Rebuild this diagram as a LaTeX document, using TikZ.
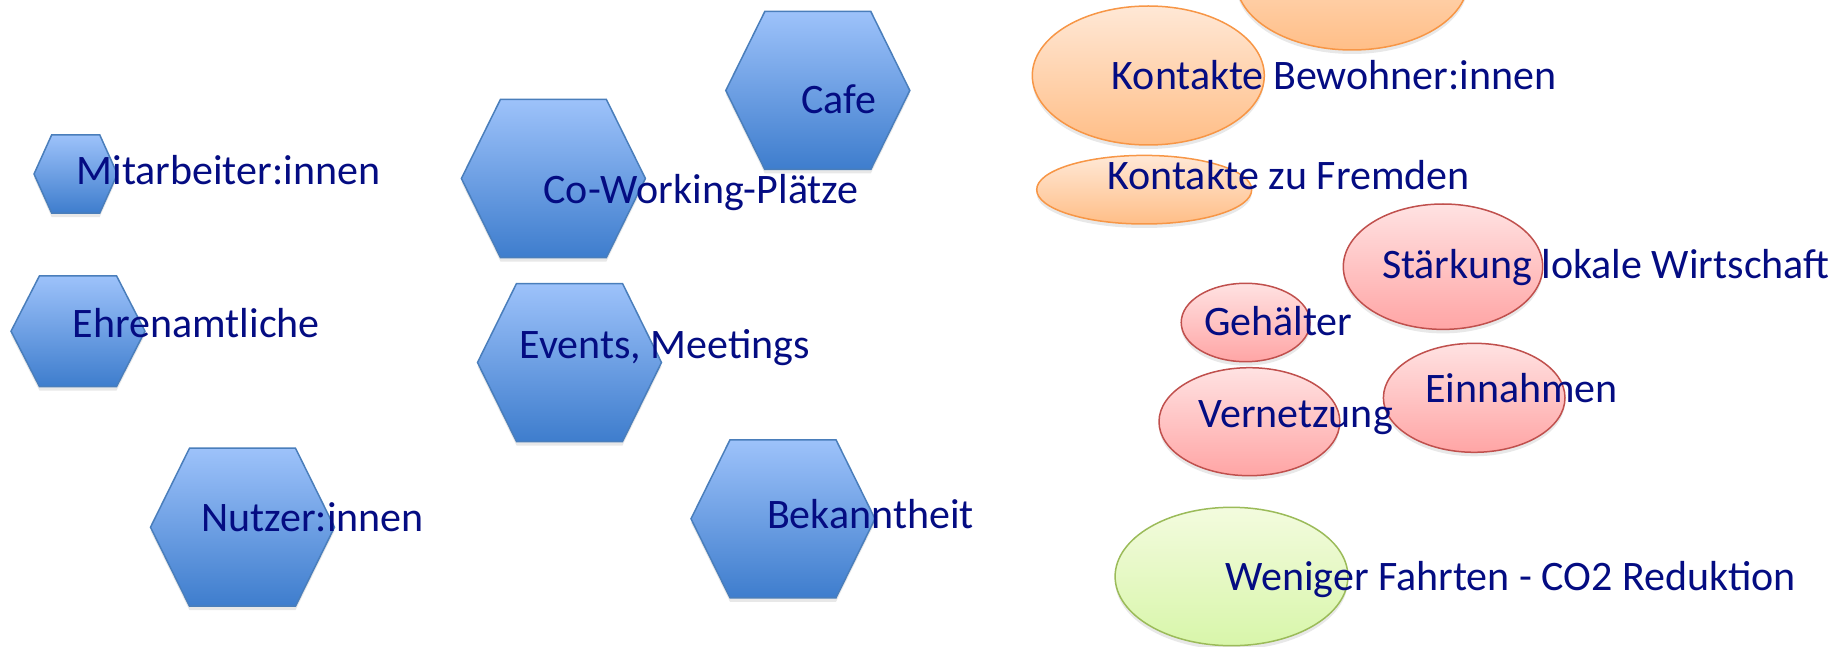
\documentclass[tikz,border=0pt]{standalone}
\usepackage{fontspec}
\setmainfont{Carlito}
\usetikzlibrary{shapes.geometric,shadows}
\definecolor{hexTop}{RGB}{157,194,250}
\definecolor{hexBot}{RGB}{62,125,205}
\definecolor{hexLine}{RGB}{74,126,187}
\definecolor{oraTop}{RGB}{255,232,214}
\definecolor{oraBot}{RGB}{255,190,135}
\definecolor{oraLine}{RGB}{247,150,70}
\definecolor{redTop}{RGB}{255,226,226}
\definecolor{redBot}{RGB}{255,165,165}
\definecolor{redLine}{RGB}{192,80,77}
\definecolor{grnTop}{RGB}{243,251,222}
\definecolor{grnBot}{RGB}{216,246,170}
\definecolor{grnLine}{RGB}{155,187,89}
\definecolor{txtBlue}{RGB}{4,12,130}
\tikzset{
  shade/.style={drop shadow={shadow xshift=0pt,shadow yshift=-4pt,opacity=.18}},
  hexa/.style={shade,top color=hexTop,bottom color=hexBot,draw=hexLine,line width=1.5pt},
  hexagon/.pic={\path[hexa] (-92,0) -- (-53,-79) -- (53,-79) -- (92,0) -- (53,79) -- (-53,79) -- cycle;},
  ball/.style={ellipse,shade,inner sep=0pt,line width=1.5pt},
  orange/.style={ball,top color=oraTop,bottom color=oraBot,draw=oraLine},
  red/.style={ball,top color=redTop,bottom color=redBot,draw=redLine},
  green/.style={ball,top color=grnTop,bottom color=grnBot,draw=grnLine},
  word/.style={anchor=base west,inner sep=0pt,text=txtBlue,font=\fontsize{42}{50}\selectfont}
}
\begin{document}
\begin{tikzpicture}[x=1pt,y=-1pt]
\useasboundingbox (0,0) rectangle (1839,647);
% hexagons
\pic[xscale=0.453,yscale=0.496] (mitarb) at (75.7,174) {hexagon};
\pic[xscale=0.728,yscale=0.70] (ehren) at (78,331.2) {hexagon};
\pic (cowork) at (553.4,178.5) {hexagon};
\pic (cafe) at (817.8,90.5) {hexagon};
\pic (events) at (569.5,362.5) {hexagon};
\pic (nutzer) at (242.5,527.2) {hexagon};
\pic (bekannt) at (783,518.8) {hexagon};
% ellipses
\node[orange,minimum width=232pt,minimum height=139pt] (oben) at (1352,-19.5) {};
\node[orange,minimum width=232pt,minimum height=139pt] (bewohner) at (1148.3,75.5) {};
\node[orange,minimum width=215pt,minimum height=68.6pt] (fremde) at (1144.2,189.7) {};
\node[red,minimum width=199.4pt,minimum height=125.4pt] (staerkung) at (1443,266.7) {};
\node[red,minimum width=128.8pt,minimum height=78.4pt] (gehalt) at (1245.6,322.5) {};
\node[red,minimum width=180.8pt,minimum height=108pt] (vernetz) at (1249.4,421.7) {};
\node[red,minimum width=181.6pt,minimum height=109pt] (einnahm) at (1474.2,397.8) {};
\node[green,minimum width=232.8pt,minimum height=138.4pt] (weniger) at (1231.5,576.5) {};
% texts
\node[word] (tMitarb) at (76.3,185) {Mitarbeiter:innen};
\node[word] (tCowork) at (543.4,204) {Co-Working-Plätze};
\node[word] (tCafe) at (801,114) {Cafe};
\node[word] (tEhren) at (72.7,337.3) {Ehrenamtliche};
\node[word] (tEvents) at (519.4,358.3) {Events, Meetings};
\node[word] (tNutzer) at (201.3,531.7) {Nutzer:innen};
\node[word] (tBekannt) at (766.8,528.3) {Bekanntheit};
\node[word] (tBewohner) at (1111.7,89.3) {Kontakte Bewohner:innen};
\node[word] (tFremde) at (1107.3,189.3) {Kontakte zu Fremden};
\node[word] (tStaerkung) at (1381.8,278.3) {Stärkung lokale Wirtschaft};
\node[word] (tGehalt) at (1203.9,335.7) {Gehälter};
\node[word] (tVernetz) at (1198.2,427.3) {Vernetzung};
\node[word] (tEinnahm) at (1424.8,402.3) {Einnahmen};
\node[word] (tWeniger) at (1225.1,590.7) {Weniger Fahrten - CO2 Reduktion};
\end{tikzpicture}
\end{document}
